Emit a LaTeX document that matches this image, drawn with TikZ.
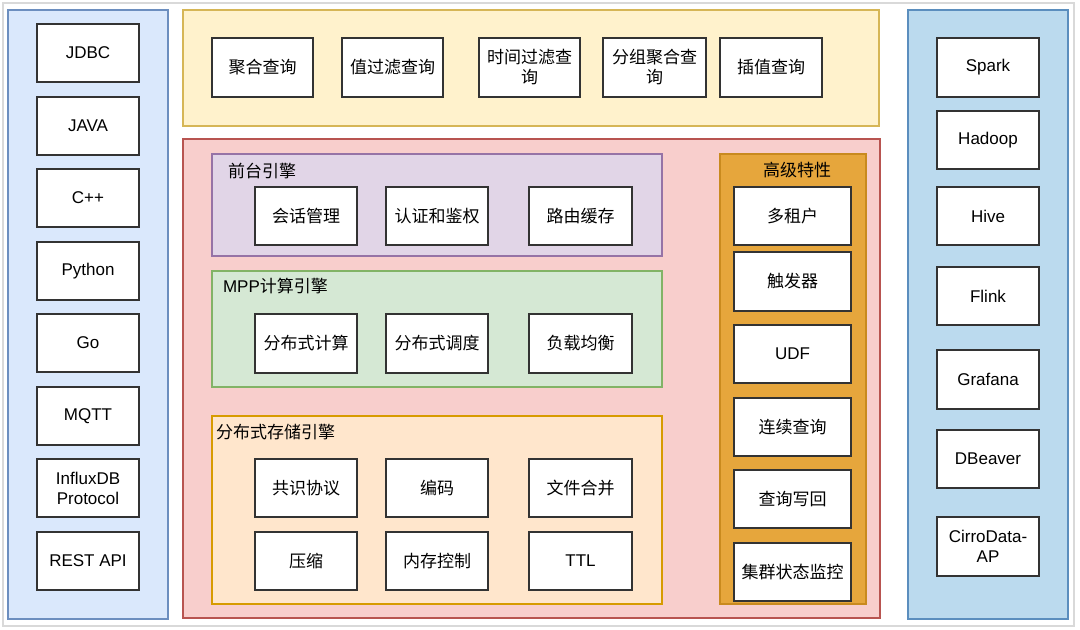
\documentclass[tikz,border=0pt]{standalone}
\usepackage{fontspec}
\setmainfont{Liberation Sans}
\newfontfamily\cjk{Noto Sans CJK SC}
\newfontfamily\lat{Liberation Sans}
\definecolor{frameC}{HTML}{D9D9D9}
\definecolor{blueF}{HTML}{DAE8FC}\definecolor{blueS}{HTML}{6C8EBF}
\definecolor{yelF}{HTML}{FFF2CC}\definecolor{yelS}{HTML}{D6B656}
\definecolor{redF}{HTML}{F8CECC}\definecolor{redS}{HTML}{B85450}
\definecolor{purF}{HTML}{E1D5E7}\definecolor{purS}{HTML}{9673A6}
\definecolor{grnF}{HTML}{D5E8D4}\definecolor{grnS}{HTML}{82B366}
\definecolor{orgF}{HTML}{FFE6CC}\definecolor{orgS}{HTML}{D79B00}
\definecolor{advF}{HTML}{E6A63C}\definecolor{advS}{HTML}{C98A1E}
\definecolor{skyF}{HTML}{BBDAEE}\definecolor{skyS}{HTML}{5B8EBE}
\definecolor{boxS}{HTML}{333333}
\newcommand\rb[7][]{\node[#1, minimum width={(#5-#3)*0.75pt}, minimum height={(#6-#4)*0.75pt}] (#2) at ({(#3+#5)/2},{(#4+#6)/2}) {#7};}
\tikzset{
  every node/.style={inner sep=0pt, outer sep=0pt, font=\cjk\fontsize{12.75}{15}\selectfont, align=center},
  box/.style={draw=boxS, fill=white, line width=1.05pt},
  lbox/.style={box, font=\lat\fontsize{12.75}{15}\selectfont},
  panel/.style={line width=1.05pt},
  ttl/.style={anchor=west}
}
\begin{document}
\begin{tikzpicture}[x=0.75pt, y=-0.75pt]
\useasboundingbox (0,0) rectangle (1080,630);
\fill[white] (0,0) rectangle (1080,630);
\draw[frameC, line width=1.5pt] (3,3) rectangle (1074,626);
% panels
\rb[panel, draw=blueS, fill=blueF]{left}{8}{10}{168}{619}{}
\rb[panel, draw=yelS, fill=yelF]{top}{183}{10}{879}{126}{}
\rb[panel, draw=redS, fill=redF]{core}{183}{139}{880}{618}{}
\rb[panel, draw=skyS, fill=skyF]{right}{908}{10}{1068}{619}{}
\rb[panel, draw=purS, fill=purF]{front}{212}{154}{662}{256}{}
\rb[panel, draw=grnS, fill=grnF]{mpp}{212}{271}{662}{387}{}
\rb[panel, draw=orgS, fill=orgF]{store}{212}{416}{662}{604}{}
\rb[panel, draw=advS, fill=advF]{adv}{720}{154}{866}{604}{}
% titles
\node[ttl] (tfront) at (228,171) {前台引擎};
\node[ttl] (tmpp) at (223,286) {{\lat MPP}计算引擎};
\node[ttl] (tstore) at (216,432) {分布式存储引擎};
\node (tadv) at (797,170) {高级特性};
% left boxes
\rb[lbox]{jdbc}{37}{24}{139}{82}{JDBC}
\rb[lbox]{java}{37}{97}{139}{155}{JAVA}
\rb[lbox]{cpp}{37}{169}{139}{227}{C++}
\rb[lbox]{python}{37}{242}{139}{300}{Python}
\rb[lbox]{go}{37}{314}{139}{372}{Go}
\rb[lbox]{mqtt}{37}{387}{139}{445}{MQTT}
\rb[lbox]{influx}{37}{459}{139}{517}{InfluxDB\\Protocol}
\rb[lbox]{rest}{37}{532}{139}{590}{REST API}
% top boxes
\rb[box]{q1}{212}{38}{313}{97}{聚合查询}
\rb[box]{q2}{342}{38}{443}{97}{值过滤查询}
\rb[box]{q3}{479}{38}{580}{97}{时间过滤查\\询}
\rb[box]{q4}{603}{38}{706}{97}{分组聚合查\\询}
\rb[box]{q5}{720}{38}{822}{97}{插值查询}
% front
\rb[box]{f1}{255}{187}{357}{245}{会话管理}
\rb[box]{f2}{386}{187}{488}{245}{认证和鉴权}
\rb[box]{f3}{529}{187}{632}{245}{路由缓存}
% mpp
\rb[box]{m1}{255}{314}{357}{373}{分布式计算}
\rb[box]{m2}{386}{314}{488}{373}{分布式调度}
\rb[box]{m3}{529}{314}{632}{373}{负载均衡}
% storage
\rb[box]{s1}{255}{459}{357}{517}{共识协议}
\rb[box]{s2}{386}{459}{488}{517}{编码}
\rb[box]{s3}{529}{459}{632}{517}{文件合并}
\rb[box]{s4}{255}{532}{357}{590}{压缩}
\rb[box]{s5}{386}{532}{488}{590}{内存控制}
\rb[lbox]{s6}{529}{532}{632}{590}{TTL}
% advanced
\rb[box]{a1}{734}{187}{851}{245}{多租户}
\rb[box]{a2}{734}{252}{851}{311}{触发器}
\rb[lbox]{a3}{734}{325}{851}{383}{UDF}
\rb[box]{a4}{734}{398}{851}{456}{连续查询}
\rb[box]{a5}{734}{470}{851}{528}{查询写回}
\rb[box]{a6}{734}{543}{851}{601}{集群状态监控}
% right boxes
\rb[lbox]{spark}{937}{38}{1039}{97}{Spark}
\rb[lbox]{hadoop}{937}{111}{1039}{169}{Hadoop}
\rb[lbox]{hive}{937}{187}{1039}{245}{Hive}
\rb[lbox]{flink}{937}{267}{1039}{325}{Flink}
\rb[lbox]{grafana}{937}{350}{1039}{409}{Grafana}
\rb[lbox]{dbeaver}{937}{430}{1039}{488}{DBeaver}
\rb[lbox]{cirro}{937}{517}{1039}{576}{CirroData-\\AP}
\end{tikzpicture}
\end{document}
